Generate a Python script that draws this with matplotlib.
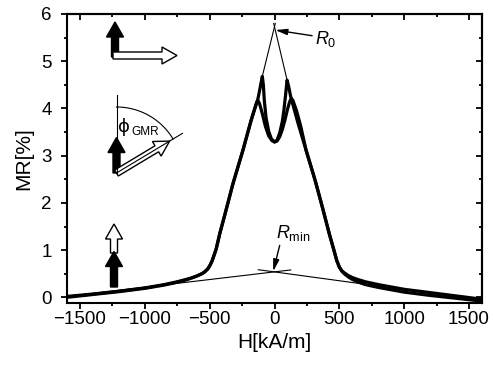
import numpy as np
import matplotlib
matplotlib.use("Agg")
import matplotlib.pyplot as plt
import matplotlib.transforms as mtransforms
from matplotlib.patches import Polygon
from matplotlib.ticker import MultipleLocator

plt.rcParams['font.family'] = ['Liberation Sans', 'DejaVu Sans']
plt.rcParams['mathtext.fontset'] = 'custom'
plt.rcParams['mathtext.rm'] = 'Liberation Sans'
plt.rcParams['mathtext.it'] = 'Liberation Sans:italic'

# sweep with the high peak at negative field
h_a = [-1600, -1400, -1200, -1000, -850, -750, -680, -640, -600, -560, -538, -515,
       -495, -480, -450, -422, -380, -320, -244, -180, -128, -110, -94, -86, -78,
       -65, -45, -25, 0, 20, 40, 60, 80, 100, 118, 130, 142, 170, 200, 244, 300,
       320, 370, 422, 460, 480, 500, 520, 538, 570, 600, 640, 700, 800, 1000,
       1200, 1400, 1600]
mr_a = [0.02, 0.07, 0.13, 0.20, 0.27, 0.33, 0.38, 0.41, 0.45, 0.50, 0.54, 0.60,
        0.69, 0.78, 1.02, 1.35, 1.78, 2.41, 3.11, 3.75, 4.20, 4.45, 4.68, 4.50, 4.15,
        3.80, 3.52, 3.36, 3.29, 3.31, 3.40, 3.55, 3.75, 3.98, 4.15, 4.21, 4.17, 3.95,
        3.65, 3.11, 2.60, 2.41, 1.90, 1.35, 0.98, 0.78, 0.64, 0.56, 0.52, 0.46, 0.42,
        0.38, 0.33, 0.27, 0.17, 0.10, 0.03, -0.04]

# sweep with the high peak at positive field
h_b = [-1600, -1400, -1200, -1000, -850, -750, -680, -640, -600, -560, -538, -515,
       -495, -480, -450, -422, -380, -320, -244, -180, -150, -136, -128, -115, -95,
       -70, -45, -20, 0, 20, 40, 60, 72, 84, 97, 108, 125, 150, 180, 244, 300,
       320, 370, 422, 460, 480, 500, 520, 538, 570, 600, 640, 700, 800, 1000,
       1200, 1400, 1600]
mr_b = [0.00, 0.06, 0.12, 0.19, 0.26, 0.32, 0.37, 0.41, 0.45, 0.50, 0.54, 0.60,
        0.69, 0.78, 1.02, 1.35, 1.78, 2.41, 3.11, 3.75, 4.02, 4.14, 4.17, 4.10, 3.90,
        3.62, 3.42, 3.32, 3.29, 3.33, 3.48, 3.72, 3.95, 4.25, 4.60, 4.48, 4.25, 4.00,
        3.70, 3.11, 2.60, 2.41, 1.90, 1.35, 0.98, 0.78, 0.64, 0.55, 0.50, 0.43, 0.38,
        0.33, 0.27, 0.21, 0.11, 0.04, -0.02, -0.08]

# tangent lines meeting at R0 and Rmin
r0_left_h, r0_left_mr = [-94, 6], [4.68, 5.80]
r0_right_h, r0_right_mr = [97, -6], [4.60, 5.80]
rmin_left_h, rmin_left_mr = [-1600, 125], [0.02, 0.58]
rmin_right_h, rmin_right_mr = [-125, 1600], [0.585, -0.06]

fig = plt.figure(figsize=(4.93, 3.67), dpi=100)
ax = fig.add_axes([67 / 493, 64 / 367, 415 / 493, 289 / 367])

ax.plot(h_a, mr_a, color='black', lw=2.3, solid_joinstyle='round')
ax.plot(h_b, mr_b, color='black', lw=2.3, solid_joinstyle='round')
for hh, mm in [(r0_left_h, r0_left_mr), (r0_right_h, r0_right_mr),
               (rmin_left_h, rmin_left_mr), (rmin_right_h, rmin_right_mr)]:
    ax.plot(hh, mm, color='black', lw=0.8)

arr = dict(arrowstyle='-|>,head_length=0.7,head_width=0.18', color='black', lw=1.0,
           shrinkA=0, shrinkB=0)
ax.annotate('', xy=(6, 5.66), xytext=(290, 5.54), arrowprops=arr)
ax.text(312, 5.47, r'$R_0$', fontsize=13, va='center', ha='left')
ax.annotate('', xy=(-10, 0.55), xytext=(40, 1.10), arrowprops=arr)
ax.text(8, 1.36, r'$R_{\mathrm{min}}$', fontsize=13, va='center', ha='left')

ax.set_xlim(-1600, 1600)
ax.set_ylim(-0.12, 6)
ax.xaxis.set_major_locator(MultipleLocator(500))
ax.xaxis.set_minor_locator(MultipleLocator(250))
ax.yaxis.set_major_locator(MultipleLocator(1))
ax.yaxis.set_minor_locator(MultipleLocator(0.5))
ax.tick_params(which='both', direction='out', width=1.3, labelsize=13.5,
               top=False, right=False)
ax.tick_params(which='major', length=4)
ax.tick_params(which='minor', length=2.5)
ax.tick_params(axis='x', pad=2)
ax.tick_params(axis='y', pad=7)
sec_x = ax.secondary_xaxis('top')
sec_y = ax.secondary_yaxis('right')
for sec in (sec_x, sec_y):
    sec.tick_params(which='both', direction='in', width=1.3, labelleft=False,
                    labelright=False, labeltop=False)
    sec.tick_params(which='major', length=4)
    sec.tick_params(which='minor', length=2.5)
sec_x.xaxis.set_major_locator(MultipleLocator(500))
sec_x.xaxis.set_minor_locator(MultipleLocator(250))
sec_y.yaxis.set_major_locator(MultipleLocator(1))
sec_y.yaxis.set_minor_locator(MultipleLocator(0.5))
for s in ax.spines.values():
    s.set_linewidth(1.5)
for sec in (sec_x, sec_y):
    for s in sec.spines.values():
        s.set_linewidth(1.5)

ax.set_xlabel('H[kA/m]', fontsize=15, labelpad=3)
ax.set_ylabel('MR[%]', fontsize=15, labelpad=6)

# magnetisation sketches, drawn in picture pixels (y down)
pix = mtransforms.Affine2D().scale(1, -1).translate(0, 367)


def arrow_poly(x0, y0, x1, y1, shaft=7.0, head=17.0, head_len=15.0):
    d = np.array([x1 - x0, y1 - y0], float)
    L = np.hypot(*d)
    u = d / L
    n = np.array([-u[1], u[0]])
    p0 = np.array([x0, y0], float)
    pb = p0 + u * (L - head_len)
    return [p0 + n * shaft / 2, pb + n * shaft / 2, pb + n * head / 2,
            np.array([x1, y1], float), pb - n * head / 2, pb - n * shaft / 2,
            p0 - n * shaft / 2]


def draw_arrow(x0, y0, x1, y1, filled):
    fc = 'black' if filled else 'white'
    p = Polygon(arrow_poly(x0, y0, x1, y1), closed=True, facecolor=fc,
                edgecolor='black', lw=1.0, transform=pix, clip_on=False,
                joinstyle='miter')
    fig.add_artist(p)


# parallel / perpendicular
draw_arrow(115, 57, 115, 22, True)
draw_arrow(113, 55.5, 177, 55.5, False)

# angle phi_GMR
px0, py0 = 116.5, 173.0
ang = np.deg2rad(31)
fig.add_artist(plt.Line2D([px0, px0], [95, py0], color='black', lw=0.8, transform=pix))
fig.add_artist(plt.Line2D([px0, px0 + 77 * np.cos(ang)], [py0, py0 - 77 * np.sin(ang)],
                          color='black', lw=0.8, transform=pix))
t = np.linspace(ang, np.pi / 2, 60)
fig.add_artist(plt.Line2D(px0 + 66 * np.cos(t), py0 - 66 * np.sin(t), color='black',
                          lw=0.8, transform=pix))
draw_arrow(px0, py0, px0, 137.5, True)
draw_arrow(px0, py0, px0 + 62 * np.cos(ang), py0 - 62 * np.sin(ang), False)
fig.text(118, 131.5, 'ϕ', fontsize=13, transform=pix, va='baseline', ha='left',
         family=['DejaVu Sans'])
fig.text(131, 135, 'GMR', fontsize=8.5, transform=pix, va='baseline', ha='left')

# both layers pointing up
draw_arrow(114, 253, 114, 224, False)
draw_arrow(114, 287, 114, 251.5, True)

fig.savefig('out.png', dpi=100)
